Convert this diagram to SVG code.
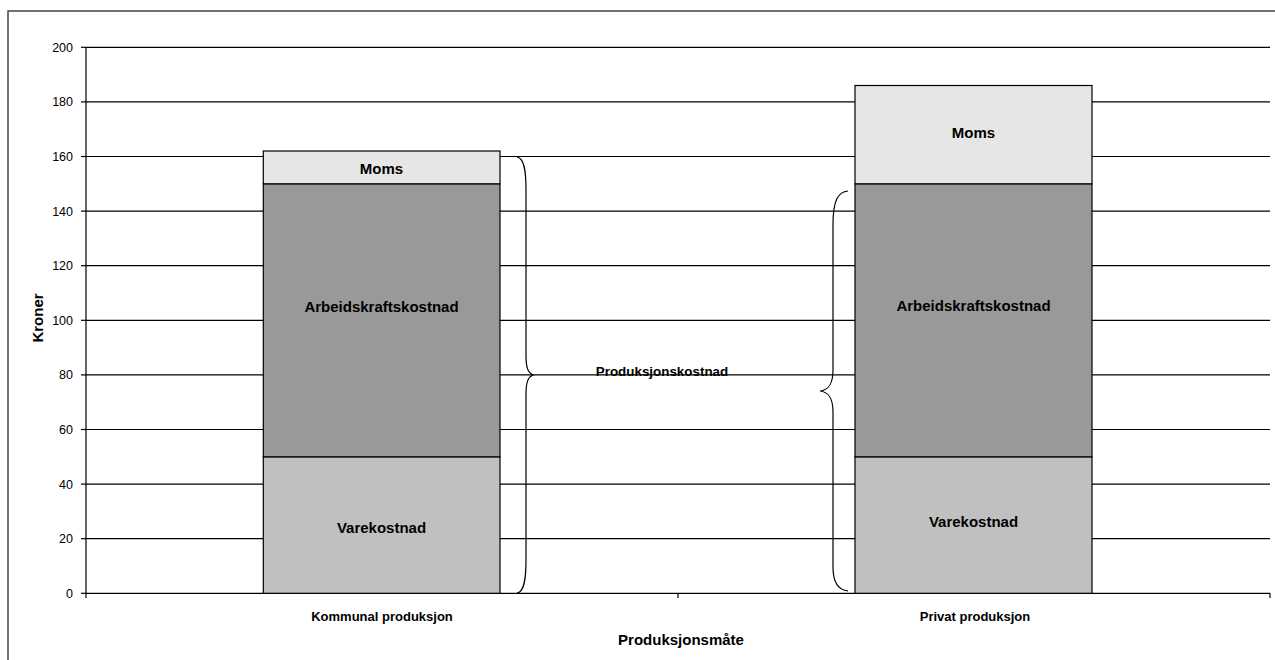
<svg xmlns="http://www.w3.org/2000/svg" width="1275" height="660" viewBox="0 0 1275 660">
<style>
text{font-family:"Liberation Sans",Arial,sans-serif;fill:#000}
.tick{font-size:12.5px;text-anchor:end}
.b{font-weight:bold;text-anchor:middle}
.grid{stroke:#000;stroke-width:1.2}
.bar{stroke:#000;stroke-width:1.2}
.moms{fill:#e6e6e6}
.arb{fill:#999999}
.vare{fill:#c0c0c0}
.brace{fill:none;stroke:#000;stroke-width:1.2}
</style>
<rect x="8" y="11" width="1300" height="700" fill="#fff" stroke="#444" stroke-width="1.5"/>
<g id="grid">
<line class="grid" x1="86" y1="47.3" x2="1270" y2="47.3"/>
<line class="grid" x1="86" y1="101.9" x2="1270" y2="101.9"/>
<line class="grid" x1="86" y1="156.5" x2="1270" y2="156.5"/>
<line class="grid" x1="86" y1="211.1" x2="1270" y2="211.1"/>
<line class="grid" x1="86" y1="265.7" x2="1270" y2="265.7"/>
<line class="grid" x1="86" y1="320.3" x2="1270" y2="320.3"/>
<line class="grid" x1="86" y1="374.9" x2="1270" y2="374.9"/>
<line class="grid" x1="86" y1="429.5" x2="1270" y2="429.5"/>
<line class="grid" x1="86" y1="484.1" x2="1270" y2="484.1"/>
<line class="grid" x1="86" y1="538.7" x2="1270" y2="538.7"/>
</g>
<g id="axes">
<line class="grid" x1="86" y1="47.3" x2="86" y2="598"/>
<line class="grid" x1="86" y1="593.3" x2="1270" y2="593.3"/>
<line class="grid" x1="81" y1="47.3" x2="86" y2="47.3"/>
<line class="grid" x1="81" y1="101.9" x2="86" y2="101.9"/>
<line class="grid" x1="81" y1="156.5" x2="86" y2="156.5"/>
<line class="grid" x1="81" y1="211.1" x2="86" y2="211.1"/>
<line class="grid" x1="81" y1="265.7" x2="86" y2="265.7"/>
<line class="grid" x1="81" y1="320.3" x2="86" y2="320.3"/>
<line class="grid" x1="81" y1="374.9" x2="86" y2="374.9"/>
<line class="grid" x1="81" y1="429.5" x2="86" y2="429.5"/>
<line class="grid" x1="81" y1="484.1" x2="86" y2="484.1"/>
<line class="grid" x1="81" y1="538.7" x2="86" y2="538.7"/>
<line class="grid" x1="81" y1="593.3" x2="86" y2="593.3"/>
<line class="grid" x1="678" y1="593.3" x2="678" y2="598"/>
<line class="grid" x1="1270" y1="593.3" x2="1270" y2="598"/>
<text class="tick" x="73" y="51.8">200</text>
<text class="tick" x="73" y="106.4">180</text>
<text class="tick" x="73" y="161">160</text>
<text class="tick" x="73" y="215.6">140</text>
<text class="tick" x="73" y="270.2">120</text>
<text class="tick" x="73" y="324.8">100</text>
<text class="tick" x="73" y="379.4">80</text>
<text class="tick" x="73" y="434">60</text>
<text class="tick" x="73" y="488.6">40</text>
<text class="tick" x="73" y="543.2">20</text>
<text class="tick" x="73" y="597.8">0</text>
<text class="b" style="font-size:15px" transform="translate(43,318) rotate(-90)">Kroner</text>
<text class="b" style="font-size:15px" x="681" y="645">Produksjonsmåte</text>
<text class="b" style="font-size:13px" x="382" y="621">Kommunal produksjon</text>
<text class="b" style="font-size:13px" x="975" y="621">Privat produksjon</text>
</g>
<g id="bar-kommunal">
<rect class="bar vare" x="263.3" y="456.8" width="236.7" height="136.5"/>
<rect class="bar arb" x="263.3" y="183.8" width="236.7" height="273"/>
<rect class="bar moms" x="263.3" y="151" width="236.7" height="32.8"/>
<text class="b" style="font-size:15px" x="381.5" y="174">Moms</text>
<text class="b" style="font-size:15px" x="381.5" y="312">Arbeidskraftskostnad</text>
<text class="b" style="font-size:15px" x="381.5" y="533">Varekostnad</text>
</g>
<g id="bar-privat">
<rect class="bar vare" x="855" y="456.8" width="237" height="136.5"/>
<rect class="bar arb" x="855" y="183.8" width="237" height="273"/>
<rect class="bar moms" x="855" y="85.5" width="237" height="98.3"/>
<text class="b" style="font-size:15px" x="973.5" y="138">Moms</text>
<text class="b" style="font-size:15px" x="973.5" y="311">Arbeidskraftskostnad</text>
<text class="b" style="font-size:15px" x="973.5" y="527">Varekostnad</text>
</g>
<g id="connectors">
<path class="brace" d="M517,157 C524,158 526,170 526,190 L526,355 C526,368 528,373 533,375 C528,377 526,382 526,395 L526,560 C526,580 524,592 517,593"/>
<path class="brace" d="M848,191 C838,192 833,200 833,225 L833,370 C833,385 828,390 820,391 C828,392 833,397 833,412 L833,567 C833,582 838,590 848,591"/>
</g>
<g id="label-produksjonskostnad">
<text class="b" style="font-size:13.4px" x="662" y="376">Produksjonskostnad</text>
</g>
</svg>
